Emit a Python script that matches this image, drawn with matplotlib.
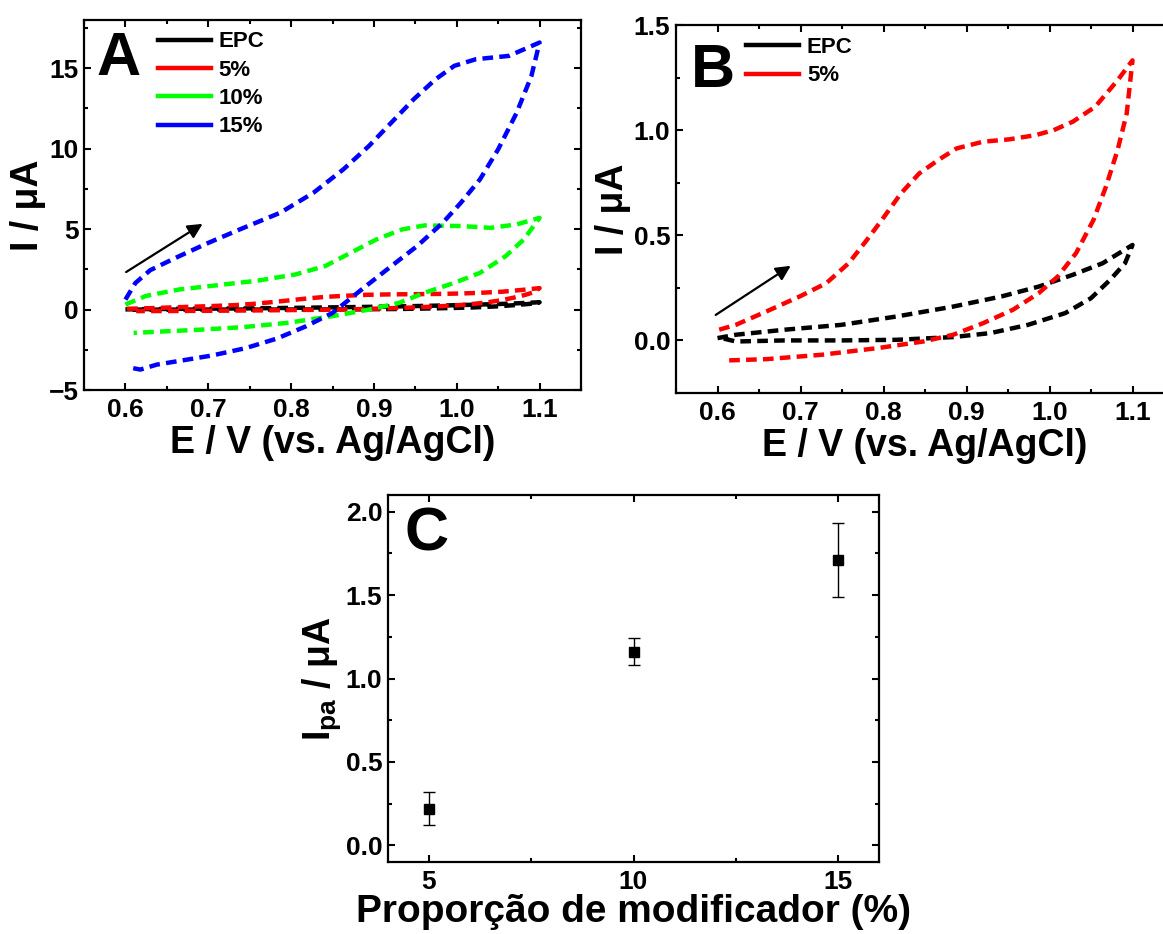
import numpy as np
import matplotlib
matplotlib.use("Agg")
import matplotlib.pyplot as plt
from matplotlib.lines import Line2D
from matplotlib.ticker import MultipleLocator, AutoMinorLocator

plt.rcParams["font.family"] = ["Liberation Sans", "DejaVu Sans"]
plt.rcParams["font.weight"] = "bold"
plt.rcParams["axes.labelweight"] = "bold"
plt.rcParams["mathtext.fontset"] = "custom"
plt.rcParams["mathtext.rm"] = "Liberation Sans:bold"
plt.rcParams["mathtext.it"] = "Liberation Sans:bold"
plt.rcParams["mathtext.bf"] = "Liberation Sans:bold"


# cyclic voltammograms, forward scan then reverse scan (E in V, I in uA)
epc_e = [0.600, 0.622, 0.681, 0.749, 0.816, 0.884, 0.942, 0.987, 1.028, 1.064, 1.100,
         1.091, 1.073, 1.050, 1.019, 0.974, 0.929, 0.884, 0.816, 0.749, 0.681, 0.622, 0.605]
epc_i = [0.011, 0.027, 0.051, 0.074, 0.114, 0.161, 0.209, 0.256, 0.312, 0.367, 0.454,
         0.367, 0.288, 0.201, 0.130, 0.074, 0.035, 0.016, 0.003, 0.000, 0.000, -0.005, 0.011]

p5_e = [0.602, 0.622, 0.659, 0.699, 0.731, 0.758, 0.780, 0.798, 0.821, 0.843, 0.866, 0.888,
        0.920, 0.951, 0.983, 1.005, 1.028, 1.055, 1.082, 1.100,
        1.093, 1.082, 1.068, 1.053, 1.032, 1.010, 0.987, 0.956, 0.920, 0.884, 0.848, 0.794,
        0.726, 0.659, 0.613]
p5_i = [0.051, 0.074, 0.138, 0.209, 0.272, 0.367, 0.478, 0.573, 0.699, 0.794, 0.858, 0.913,
        0.945, 0.956, 0.976, 1.000, 1.040, 1.111, 1.237, 1.332,
        1.079, 0.905, 0.731, 0.573, 0.415, 0.304, 0.225, 0.146, 0.082, 0.027, -0.005, -0.036,
        -0.068, -0.089, -0.095]

p10_e = [0.600, 0.625, 0.665, 0.700, 0.760, 0.805, 0.841, 0.872, 0.903, 0.934, 0.961, 1.006,
         1.041, 1.072, 1.100,
         1.081, 1.059, 1.028, 0.997, 0.961, 0.930, 0.894, 0.850, 0.795, 0.740, 0.690, 0.650,
         0.610]
p10_i = [0.31, 0.85, 1.25, 1.45, 1.80, 2.18, 2.70, 3.53, 4.36, 4.98, 5.23, 5.19,
         5.08, 5.29, 5.70,
         4.36, 3.32, 2.28, 1.66, 1.04, 0.41, 0.00, -0.41, -0.83, -1.10, -1.25, -1.35,
         -1.45]

p15_e = [0.600, 0.612, 0.630, 0.660, 0.698, 0.738, 0.787, 0.827, 0.863, 0.894, 0.921, 0.948,
         0.974, 0.997, 1.023, 1.063, 1.100,
         1.090, 1.072, 1.050, 1.028, 1.005, 0.983, 0.952, 0.921, 0.885, 0.850, 0.818, 0.783,
         0.745, 0.705, 0.670, 0.638, 0.618, 0.605]
p15_i = [0.62, 1.65, 2.45, 3.20, 4.10, 4.98, 6.02, 7.26, 8.71, 10.17, 11.62, 13.07,
         14.30, 15.15, 15.56, 15.77, 16.60,
         14.50, 12.20, 9.96, 8.09, 6.64, 5.39, 3.94, 2.70, 1.24, -0.21, -1.04, -1.80,
         -2.40, -2.85, -3.15, -3.42, -3.73, -3.60]

# peak current vs modifier proportion
proportion = [5, 10, 15]
ipa = [0.22, 1.16, 1.71]
ipa_err = [0.10, 0.08, 0.22]

legend_a = ["EPC", "5%", "10%", "15%"]
colors_a = ["black", "red", "#00ff00", "blue"]

dash = (0, (2.4, 1.4))
label_size = 27


def style_axes(ax):
    ax.tick_params(which="both", direction="in", top=True, right=True, width=1.5)
    ax.tick_params(which="major", length=5, labelsize=19)
    ax.tick_params(which="minor", length=3)
    ax.tick_params(axis="x", pad=6)
    ax.tick_params(axis="y", pad=4)
    for side in ["top", "right", "bottom", "left"]:
        ax.spines[side].set_linewidth(1.6)


fig = plt.figure(figsize=(11.63, 9.34), dpi=100)

# ---- panel A
ax1 = fig.add_axes([84 / 1163, 1 - 390 / 934, 497 / 1163, 370 / 934])
curves_a = [(epc_e, epc_i), (p5_e, p5_i), (p10_e, p10_i), (p15_e, p15_i)]
for (e, i), c in zip(curves_a, colors_a):
    ax1.plot(e, i, color=c, linewidth=3.2, linestyle=dash)

ax1.set_xlim(0.55, 1.15)
ax1.set_ylim(-5, 18)
ax1.xaxis.set_major_locator(MultipleLocator(0.1))
ax1.xaxis.set_minor_locator(AutoMinorLocator(2))
ax1.yaxis.set_major_locator(MultipleLocator(5))
ax1.yaxis.set_minor_locator(AutoMinorLocator(2))
ax1.set_xlabel("E / V (vs. Ag/AgCl)", fontsize=label_size, labelpad=2)
ax1.set_ylabel("I / μA", fontsize=label_size, labelpad=2)
style_axes(ax1)
ax1.text(0.025, 0.97, "A", transform=ax1.transAxes, fontsize=44, va="top", ha="left")
ax1.annotate("", xy=(0.696, 5.42), xytext=(0.598, 2.24),
             arrowprops=dict(arrowstyle="-|>", color="black", lw=1.6, mutation_scale=22))
handles = [Line2D([], [], color=c, linewidth=3.2) for c in colors_a]
ax1.legend(handles, legend_a, loc="upper left", bbox_to_anchor=(0.148, 0.969), frameon=False,
           fontsize=16, handlelength=2.4, handletextpad=0.35, labelspacing=0.33,
           borderpad=0, borderaxespad=0)

# ---- panel B
ax2 = fig.add_axes([676 / 1163, 1 - 393 / 934, 498 / 1163, 368 / 934])
ax2.plot(epc_e, epc_i, color="black", linewidth=3.2, linestyle=dash)
ax2.plot(p5_e, p5_i, color="red", linewidth=3.2, linestyle=dash)
ax2.set_xlim(0.55, 1.15)
ax2.set_ylim(-0.25, 1.5)
ax2.xaxis.set_major_locator(MultipleLocator(0.1))
ax2.xaxis.set_minor_locator(AutoMinorLocator(2))
ax2.yaxis.set_major_locator(MultipleLocator(0.5))
ax2.yaxis.set_minor_locator(AutoMinorLocator(2))
ax2.set_xlabel("E / V (vs. Ag/AgCl)", fontsize=label_size, labelpad=2)
ax2.set_ylabel("I / μA", fontsize=label_size, labelpad=2)
style_axes(ax2)
ax2.text(0.03, 0.95, "B", transform=ax2.transAxes, fontsize=44, va="top", ha="left")
ax2.annotate("", xy=(0.691, 0.362), xytext=(0.595, 0.114),
             arrowprops=dict(arrowstyle="-|>", color="black", lw=1.6, mutation_scale=22))
handles = [Line2D([], [], color=c, linewidth=3.2) for c in ["black", "red"]]
ax2.legend(handles, ["EPC", "5%"], loc="upper left", bbox_to_anchor=(0.14, 0.967), frameon=False,
           fontsize=16, handlelength=2.4, handletextpad=0.35, labelspacing=0.33,
           borderpad=0, borderaxespad=0)

# ---- panel C
ax3 = fig.add_axes([388 / 1163, 1 - 862 / 934, 491 / 1163, 367 / 934])
ax3.errorbar(proportion, ipa, yerr=ipa_err, fmt="s", color="black", markersize=7.5,
             elinewidth=1, capsize=4, capthick=1)
ax3.set_xlim(4, 16)
ax3.set_ylim(-0.1, 2.1)
ax3.xaxis.set_major_locator(MultipleLocator(5))
ax3.xaxis.set_minor_locator(AutoMinorLocator(2))
ax3.yaxis.set_major_locator(MultipleLocator(0.5))
ax3.yaxis.set_minor_locator(AutoMinorLocator(2))
ax3.set_xlabel("Proporção de modificador (%)", fontsize=28, labelpad=0)
ax3.set_ylabel("I$_{\\mathrm{pa}}$ / μA", fontsize=label_size, labelpad=2)
style_axes(ax3)
ax3.text(0.033, 0.97, "C", transform=ax3.transAxes, fontsize=44, va="top", ha="left")

fig.savefig("out.png", dpi=100)
